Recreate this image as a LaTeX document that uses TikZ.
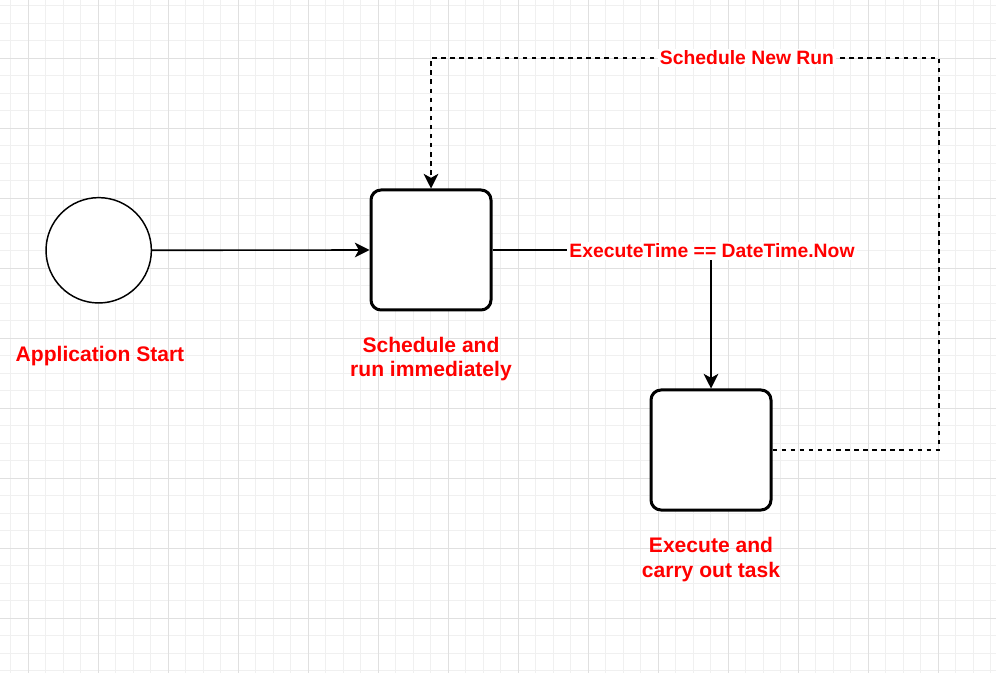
\documentclass[tikz,border=0pt]{standalone}
\usepackage{fontspec}
\setmainfont{Liberation Sans}
\usetikzlibrary{arrows.meta}
\definecolor{minorgrid}{HTML}{F0F0F0}
\definecolor{majorgrid}{HTML}{E0E0E0}
\definecolor{lblred}{HTML}{FF0000}
\tikzset{
  gridminor/.style={draw=minorgrid, line width=0.75pt},
  gridmajor/.style={draw=majorgrid, line width=0.75pt},
  startcircle/.style={circle, draw=black, line width=1.1pt, fill=white, minimum size=79pt, inner sep=0pt},
  taskbox/.style={rectangle, rounded corners=7.5pt, draw=black, line width=2.25pt, fill=white, minimum width=90pt, minimum height=90pt, inner sep=0pt},
  redlabel/.style={text=lblred, font=\fontsize{15.8}{18.6}\selectfont\bfseries, align=center, inner sep=0pt},
  edgelabel/.style={text=lblred, font=\fontsize{14.5}{17}\selectfont\bfseries, fill=white, inner sep=1.5pt},
  conn/.style={draw=black, line width=1.2pt},
  tip/.style={-{Stealth[length=11pt, width=11pt, inset=3pt]}},
  dashconn/.style={draw=black, line width=1.2pt, dash pattern=on 3.4pt off 3.4pt},
}
\begin{document}
\begin{tikzpicture}[x=0.75pt, y=-0.75pt]
\useasboundingbox (0,0) rectangle (996,673);
\fill[white] (0,0) rectangle (996,673);
% grid
\foreach \i in {0,...,56} { \draw[gridminor] ({10.8+17.5*\i},0) -- ({10.8+17.5*\i},673); }
\foreach \j in {0,...,38} { \draw[gridminor] (0,{5.8+17.5*\j}) -- (996,{5.8+17.5*\j}); }
\foreach \i in {0,...,13} { \draw[gridmajor] ({28.3+70*\i},0) -- ({28.3+70*\i},673); }
\foreach \j in {0,...,8} { \draw[gridmajor] (0,{58.3+70*\j}) -- (996,{58.3+70*\j}); }

% nodes
\node[startcircle] (start) at (98.7,250.3) {};
\node[taskbox] (sched) at (431,250) {};
\node[taskbox] (exec) at (711,450) {};

\node[redlabel, anchor=base] (startlbl) at (100,361.5) {Application Start};
\node[redlabel, anchor=base] (schedlbl) at (431,377) {Schedule and\\run immediately};
\node[redlabel, anchor=base] (execlbl) at (711,577) {Execute and\\carry out task};

% connectors
\draw[conn, tip] (start.east) -- (sched.west);

\coordinate (corner) at (711,250);
\draw[conn] (sched.east) -- (corner);
\coordinate (loopne) at (939,58);

\draw[dashconn, tip] (exec.east) -| (loopne) -| (sched.north);
\node[edgelabel] (runlbl) at (747,58) {Schedule New Run};

\node[edgelabel] (condlbl) at (712,251) {ExecuteTime == DateTime.Now};
\draw[conn, tip] (exec.north |- condlbl.south) -- (exec.north);
\end{tikzpicture}
\end{document}
